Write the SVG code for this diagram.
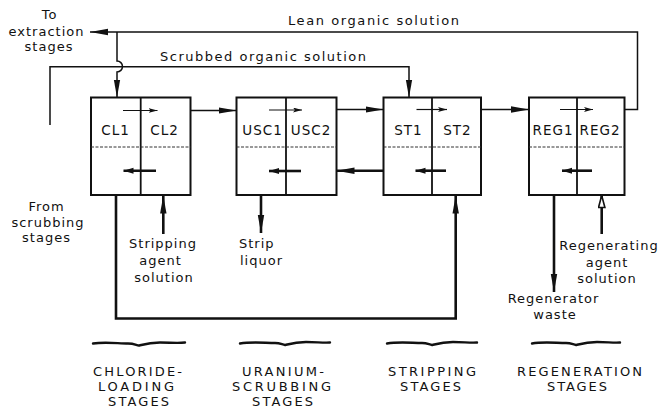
<svg xmlns="http://www.w3.org/2000/svg" width="660" height="409" viewBox="0 0 660 409">
<style>
  .box{fill:#fff;stroke:#111;stroke-width:2}
  .div{stroke:#111;stroke-width:1.8}
  .wav{fill:none;stroke:#333;stroke-width:1;stroke-dasharray:3 1.5}
  .ln{fill:none;stroke:#111;stroke-width:1.5}
  .thk{fill:none;stroke:#111;stroke-width:2.6}
  .ia{fill:none;stroke:#111;stroke-width:1.2}
  .ib{fill:none;stroke:#111;stroke-width:2.6}
  .brace{fill:none;stroke:#111;stroke-width:2.4;stroke-linecap:round}
  text{font-family:"DejaVu Sans","Liberation Sans",sans-serif;font-size:13px;fill:#111;letter-spacing:1px}
  .c{text-anchor:middle}
  .lab{font-size:13.5px}
</style>
<defs>
  <marker id="big" markerUnits="userSpaceOnUse" markerWidth="19" markerHeight="8" refX="18" refY="3.5" orient="auto">
    <path d="M0,0.3 L18,3.5 L0,6.7 Z" fill="#111"/>
  </marker>
  <marker id="sm" markerUnits="userSpaceOnUse" markerWidth="10" markerHeight="6" refX="9" refY="2.5" orient="auto">
    <path d="M0,0 L9,2.5 L0,5 L2,2.5 Z" fill="#111"/>
  </marker>
  <marker id="bt" markerUnits="userSpaceOnUse" markerWidth="11" markerHeight="7" refX="10" refY="3" orient="auto">
    <path d="M0,0 L10,3 L0,6 Z" fill="#111"/>
  </marker>
  <marker id="hol" markerUnits="userSpaceOnUse" markerWidth="15" markerHeight="9" refX="13" refY="4" orient="auto">
    <path d="M1,0.8 L13,4 L1,7.2 Z" fill="#fff" stroke="#111" stroke-width="1.6"/>
  </marker>
</defs>

<g id="connectors">
  <path class="ln" d="M190.5,110.5 H236.5" marker-end="url(#big)"/>
  <path class="ln" d="M336.5,109.5 H383.5" marker-end="url(#big)"/>
  <path class="ln" d="M481,109.5 H529" marker-end="url(#big)"/>
  <path class="thk" d="M383.5,170.7 H336.5" marker-end="url(#big)"/>
  <path class="ln" d="M624.5,109.5 H637.5 V32 H90" marker-end="url(#big)"/>
  <path class="ln" d="M117,32 V61 A5.5,5.5 0 0 1 117,72 V97.5" marker-end="url(#big)"/>
  <path class="ln" d="M50,125 V66.7 H409 V97.5" marker-end="url(#big)"/>
  <path class="thk" d="M116,195 V318.5 H455.7 V195.5" marker-end="url(#big)"/>
  <path class="thk" d="M163.3,234 V195.5" marker-end="url(#big)"/>
  <path class="thk" d="M261,195 V233" marker-end="url(#big)"/>
  <path class="thk" d="M554,195 V292" marker-end="url(#big)"/>
  <path class="thk" d="M601.7,234 V195.5" marker-end="url(#hol)"/>
</g>

<g id="cl">
  <rect class="box" x="91" y="97.5" width="99.5" height="97.5"/>
  <line class="div" x1="140.7" y1="97.5" x2="140.7" y2="195"/>
  <line class="wav" x1="91" y1="147" x2="190.5" y2="147"/>
  <path class="ia" d="M123,110.5 H157.5" marker-end="url(#sm)"/>
  <path class="ib" d="M156,170.7 H123.5" marker-end="url(#bt)"/>
  <text class="c lab" x="115.5" y="134.5">CL1</text>
  <text class="c lab" x="164.5" y="134.5">CL2</text>
</g>

<g id="usc">
  <rect class="box" x="236.5" y="97.5" width="100" height="97.5"/>
  <line class="div" x1="286" y1="97.5" x2="286" y2="195"/>
  <line class="wav" x1="236.5" y1="147" x2="336.5" y2="147"/>
  <path class="ia" d="M269,110 H302" marker-end="url(#sm)"/>
  <path class="ib" d="M301,171 H269" marker-end="url(#bt)"/>
  <text class="c lab" x="262.5" y="134.5">USC1</text>
  <text class="c lab" x="311" y="134.5">USC2</text>
</g>

<g id="st">
  <rect class="box" x="383.5" y="97.5" width="97.5" height="97.5"/>
  <line class="div" x1="432" y1="97.5" x2="432" y2="195"/>
  <line class="wav" x1="383.5" y1="147" x2="481" y2="147"/>
  <path class="ia" d="M416.5,109.5 H447" marker-end="url(#sm)"/>
  <path class="ib" d="M446,170.7 H415.5" marker-end="url(#bt)"/>
  <text class="c lab" x="408.5" y="134.5">ST1</text>
  <text class="c lab" x="457.5" y="134.5">ST2</text>
</g>

<g id="reg">
  <rect class="box" x="529" y="97.5" width="95.5" height="97.5"/>
  <line class="div" x1="577" y1="97.5" x2="577" y2="195"/>
  <line class="wav" x1="529" y1="147" x2="624.5" y2="147"/>
  <path class="ia" d="M560,109.5 H593" marker-end="url(#sm)"/>
  <path class="ib" d="M592,170.7 H562" marker-end="url(#bt)"/>
  <text class="c lab" x="553" y="134.5">REG1</text>
  <text class="c lab" x="600" y="134.5">REG2</text>
</g>

<g id="labels">
  <text class="c" x="49.5" y="18.5">To</text>
  <text class="c" x="46.5" y="35.5">extraction</text>
  <text class="c" x="49" y="51">stages</text>
  <text x="288" y="25" textLength="172" lengthAdjust="spacing">Lean organic solution</text>
  <text x="160" y="60.5" textLength="207" lengthAdjust="spacing">Scrubbed organic solution</text>
  <text class="c" x="46.5" y="211">From</text>
  <text class="c" x="48" y="226.5">scrubbing</text>
  <text class="c" x="46.5" y="242">stages</text>
  <text class="c" x="163" y="248">Stripping</text>
  <text class="c" x="160.5" y="265">agent</text>
  <text class="c" x="164" y="282">solution</text>
  <text x="239" y="248">Strip</text>
  <text x="240" y="265">liquor</text>
  <text class="c" x="609" y="250">Regenerating</text>
  <text class="c" x="607" y="266.5">agent</text>
  <text class="c" x="607" y="283">solution</text>
  <text class="c" x="553.5" y="303">Regenerator</text>
  <text class="c" x="555" y="319">waste</text>
</g>

<g id="stages">
  <path class="brace" d="M93,343.5 C105,341.5 118,343.5 128,343.5 C134,343.5 136,345 139,345.5 C143,344.5 150,342.5 160,342.5 C170,342.5 178,343.5 185,342.5"/>
  <path class="brace" d="M240,343.5 C252,341.5 265,343 275,343 C280,343 282,344.5 285,345 C289,344 296,342 306,342 C316,342 324,343 330,342.5"/>
  <path class="brace" d="M387,343.5 C399,341.5 412,343 422,343 C427,343 429,344.5 432,345 C436,344 443,342 453,342 C463,342 471,343 477,342.5"/>
  <path class="brace" d="M532,343.5 C543,341.5 556,343 566,343 C571,343 573,344.5 576,345 C580,344 587,342 597,342 C607,342 614,343 620,342.5"/>
  <text class="c" x="138" y="375.5" textLength="90" lengthAdjust="spacing">CHLORIDE-</text>
  <text class="c" x="136.5" y="391" textLength="77" lengthAdjust="spacing">LOADING</text>
  <text class="c" x="139" y="406" textLength="62" lengthAdjust="spacing">STAGES</text>
  <text class="c" x="283.5" y="375.5" textLength="83" lengthAdjust="spacing">URANIUM-</text>
  <text class="c" x="282" y="391" textLength="100" lengthAdjust="spacing">SCRUBBING</text>
  <text class="c" x="283" y="406" textLength="62" lengthAdjust="spacing">STAGES</text>
  <text class="c" x="432.5" y="375.5" textLength="89" lengthAdjust="spacing">STRIPPING</text>
  <text class="c" x="431" y="391" textLength="62" lengthAdjust="spacing">STAGES</text>
  <text class="c" x="580" y="375.5" textLength="126" lengthAdjust="spacing">REGENERATION</text>
  <text class="c" x="577.5" y="391" textLength="61" lengthAdjust="spacing">STAGES</text>
</g>
</svg>
